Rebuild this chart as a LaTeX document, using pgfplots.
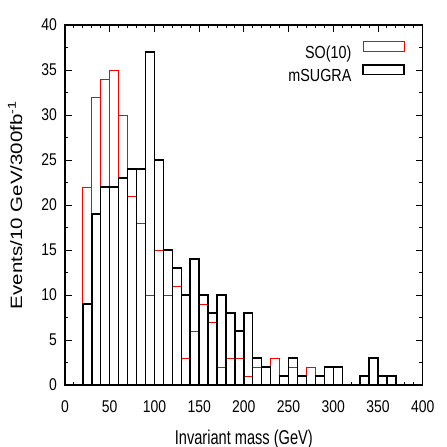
\documentclass[border=0pt]{standalone}
\usepackage{fontspec}
\setmainfont{Liberation Sans}
\newfontfamily\tickfont[FakeStretch=0.82]{Liberation Sans}
\newfontfamily\labfont[FakeStretch=0.73]{Liberation Sans}
\usepackage{graphicx}
\usepackage{pgfplots}
\usepackage{pgfplotstable}
\pgfplotsset{compat=1.18}

\pgfplotstableread{
x y
20 9
30 19
40 22
50 22
60 23
70 24
80 24
90 37
100 25
110 15
120 13
130 10
140 14
150 10
160 8
170 10
180 8
190 6
200 8
210 3
220 2
230 0
240 1
250 3
260 1
270 0
280 1
290 2
300 2
310 0
320 0
330 1
340 3
350 1
360 1
370 0
}\msugra

\pgfplotstableread{
x y
20 22
30 32
40 34
50 35
60 30
70 21
80 18
90 10
100 15
110 10
120 11
130 3
140 6
150 9
160 7
170 2
180 3
190 3
200 1
210 2
220 2
230 3
240 1
250 2
260 1
270 2
280 1
290 0
300 0
}\soten

\pgfplotsset{
  boxlegend/.style={legend image code/.code={\draw[##1,/tikz/.cd,fill=none] (0pt,2pt) rectangle (41pt,11.5pt);}}
}

\begin{document}
\begin{tikzpicture}
\useasboundingbox (-65pt,-62pt) rectangle (382pt,385pt);
\begin{axis}[
  at={(0pt,0pt)}, anchor=south west,
  scale only axis, width=357.7pt, height=360pt,
  xmin=0, xmax=400, ymin=0, ymax=40,
  xtick={0,50,...,400}, ytick={0,5,...,40},
  minor x tick num=4, minor y tick num=1,
  tick align=inside,
  major tick length=7pt, minor tick length=3.5pt,
  every tick/.style={black, line width=0.9pt},
  axis line style={line width=1.1pt},
  /pgf/number format/assume math mode=true,
  ticklabel style={font=\fontsize{17}{17}\tickfont},
  yticklabel style={inner sep=0pt, xshift=-8pt},
  xticklabel style={inner sep=0pt, yshift=-15pt},
  xlabel={\fontsize{20}{20}\labfont Invariant mass (GeV)},
  xlabel style={at={(axis description cs:0.5,-0.1639)}, anchor=base, inner sep=0pt},
  ylabel={\fontsize{20.5}{20.5}\selectfont\scalebox{1}[0.8]{Events/10 GeV/300fb\textsuperscript{-1}}},
  ylabel style={at={(axis description cs:-0.1202,0.5)}, anchor=base, inner sep=0pt},
  legend style={draw=none, fill=none, at={(axis description cs:0.9505,0.955)}, anchor=north east,
    font=\fontsize{17.5}{17.5}\tickfont, row sep=4pt, column sep=11pt, inner sep=0pt,
    nodes={inner sep=0pt}},
  legend cell align=right,
  legend plot pos=right,
]
\addplot[ybar interval, draw=red, fill=none, line width=0.9pt, boxlegend] table[x=x,y=y] {\soten};
\addlegendentry{SO(10)}
\addplot[ybar interval, draw=black, fill=none, line width=1.4pt, boxlegend] table[x=x,y=y] {\msugra};
\addlegendentry{mSUGRA}
\end{axis}
\end{tikzpicture}
\end{document}
